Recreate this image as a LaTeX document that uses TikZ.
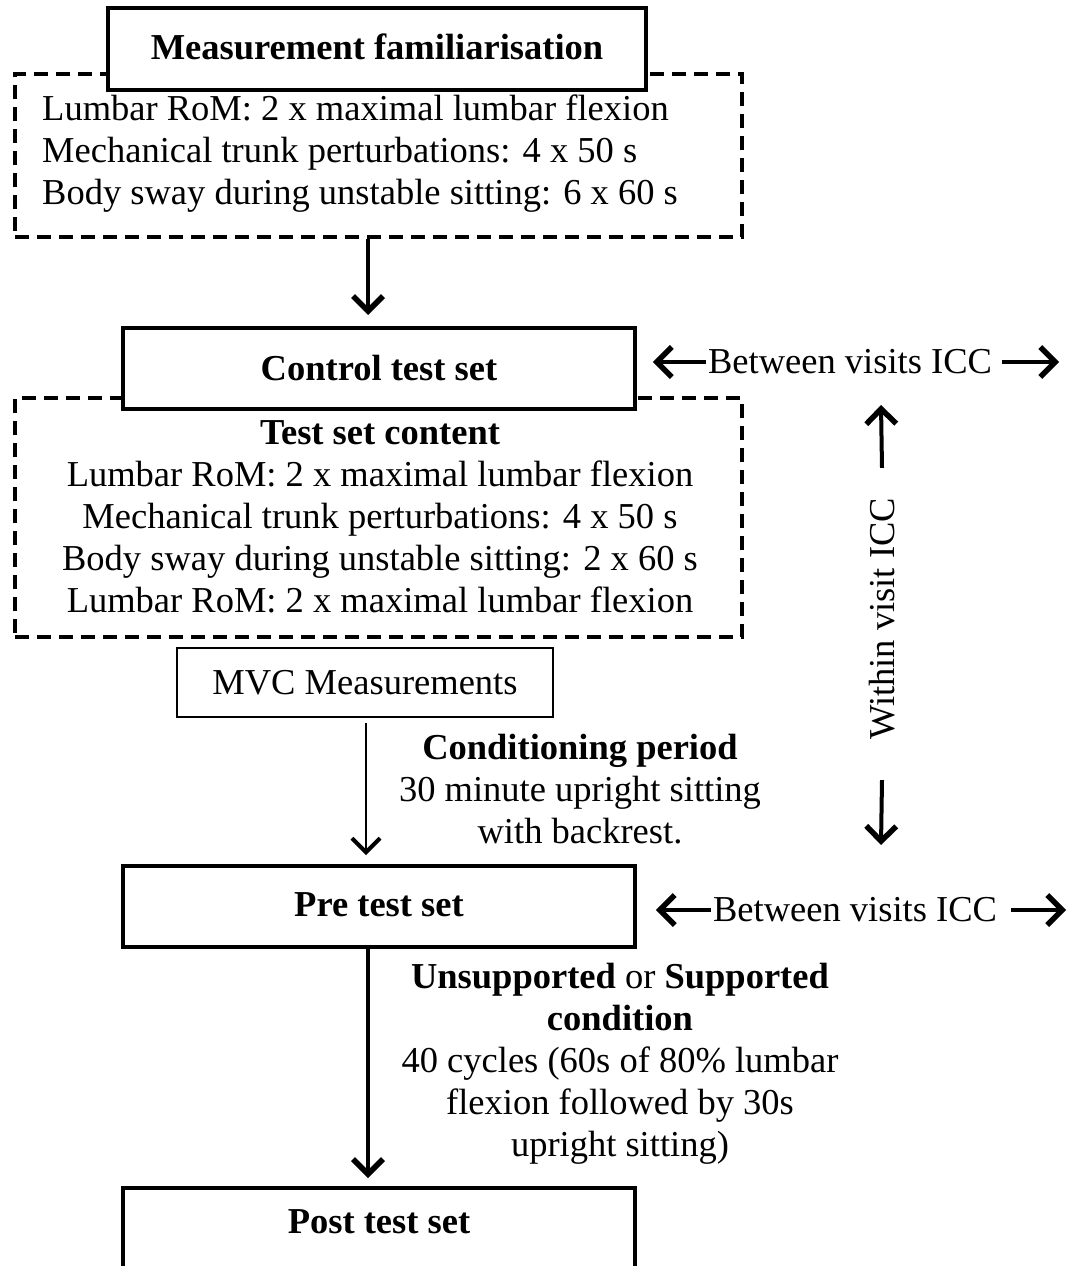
\documentclass[tikz,border=0pt]{standalone}
\usepackage{fontspec}
\setmainfont{Liberation Serif}
\usetikzlibrary{arrows.meta,calc}
\begin{document}
\begin{tikzpicture}[x=1pt,y=-1pt,
  font=\fontsize{36.5}{42}\selectfont,
  mainbox/.style={draw,line width=4pt,fill=white,inner sep=0pt},
  thinbox/.style={draw,line width=2.6pt,fill=white,inner sep=0pt},
  dashbox/.style={draw,line width=4pt,dash pattern=on 14pt off 8pt,inner sep=0pt},
  txt/.style={inner sep=0pt,align=center},
  arr/.style={line width=4pt,-{Straight Barb[length=15pt,width=30pt,line width=5.5pt]}},
  thinarr/.style={line width=2.6pt,-{Straight Barb[length=14pt,width=28pt,line width=4pt]}}
]
\useasboundingbox (0,0) rectangle (1076,1266);
\clip (0,0) rectangle (1076,1266);
\coordinate (colA) at (368,0);
\coordinate (colB) at (366,0);
\coordinate (colR) at (881,0);

% familiarisation
\node[dashbox,minimum width=727pt,minimum height=163pt] (fam) at (378.5,155.5) {};
\node[inner sep=0pt,anchor=west,align=left] (famtxt) at (42,154)
  {Lumbar RoM: 2 x maximal lumbar flexion\\
   Mechanical trunk perturbations: 4 x 50 s\\
   Body sway during unstable sitting: 6 x 60 s};
\node[mainbox,minimum width=538pt,minimum height=82pt] (famhead) at (377,49)
  {\raisebox{5pt}{\bfseries Measurement familiarisation}};

% control test set
\node[dashbox,minimum width=727pt,minimum height=239pt] (ctrlset) at (378.5,517.5) {};
\node[txt] (ctrltxt) at (380,517)
  {\textbf{Test set content}\\
   Lumbar RoM: 2 x maximal lumbar flexion\\
   Mechanical trunk perturbations: 4 x 50 s\\
   Body sway during unstable sitting: 2 x 60 s\\
   Lumbar RoM: 2 x maximal lumbar flexion};
\node[mainbox,minimum width=512pt,minimum height=81pt] (ctrl) at (379,368.5)
  {\raisebox{2pt}{\bfseries Control test set}};

\node[thinbox,minimum width=376pt,minimum height=69pt] (mvc) at (365,682.5)
  {MVC Measurements};

\node[mainbox,minimum width=512pt,minimum height=81pt] (pre) at (379,906.5)
  {\raisebox{4pt}{\bfseries Pre test set}};
\node[mainbox,minimum width=512pt,minimum height=100pt] (post) at (379,1238)
  {\raisebox{32pt}{\bfseries Post test set}};

% connectors
\draw[arr,shorten >=11pt] (fam.south -| colA) -- (ctrl.north -| colA);
\draw[thinarr,shorten <=5pt,shorten >=9pt] (mvc.south -| colB) -- (pre.north -| colB);
\draw[arr,shorten >=8pt] (pre.south -| colA) -- (post.north -| colA);

\node[txt] (cond) at (580,789)
  {\textbf{Conditioning period}\\30 minute upright sitting\\with backrest.};
\node[txt] (supp) at (620,1064)
  {\textbf{Unsupported} or \textbf{Supported}\\\textbf{condition}\\
   40 cycles (60s of 80\% lumbar\\flexion followed by 30s\\upright sitting)};

% ICC annotations
\node[inner sep=2pt] (bv1) at (850,362) {Between visits ICC};
\draw[arr] (bv1.west) -- ++(-53,0);
\draw[arr,shorten <=8pt] (bv1.east) -- ++(65,0);
\node[inner sep=2pt] (bv2) at (855,910) {Between visits ICC};
\draw[arr] (bv2.west) -- ++(-55,0);
\draw[arr,shorten <=12pt] (bv2.east) -- ++(67,0);

\node[inner sep=0pt,rotate=90] (wv) at (882,619) {Within visit ICC};
\draw[arr] (wv.east) ++(0,-30) -- (colR |- 0,405) coordinate (wvtop);
\draw[arr] (wv.west) ++(0,40) -- (colR |- 0,845) coordinate (wvbot);
\end{tikzpicture}
\end{document}
